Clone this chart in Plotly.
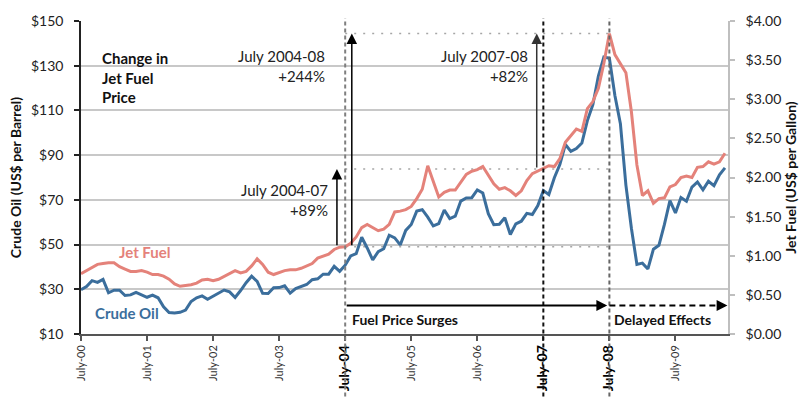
import plotly.graph_objects as go

# Monthly index: 0 = July 2000 ... 117 = April 2010
months = list(range(118))

# Crude oil (US$ per barrel), monthly
crude = [
    29.77, 31.22, 33.88, 33.11, 34.42, 28.44,
    29.59, 29.61, 27.24, 27.49, 28.63, 27.60, 26.43, 27.37, 26.20, 22.17, 19.64, 19.39,
    19.72, 20.72, 24.53, 26.18, 27.04, 25.52, 26.97, 28.39, 29.66, 28.84, 26.35, 29.46,
    32.95, 35.83, 33.51, 28.17, 28.11, 30.66, 30.76, 31.57, 28.31, 30.34, 31.11, 32.13,
    34.31, 34.69, 36.74, 36.75, 40.28, 38.03, 40.78, 44.90, 45.94, 53.28, 48.47, 43.15,
    46.84, 48.15, 54.19, 52.98, 49.83, 56.35, 59.00, 64.99, 65.59, 62.26, 58.32, 59.41,
    65.49, 61.63, 62.69, 69.44, 70.84, 70.95, 74.41, 73.04, 63.80, 58.89, 59.08, 61.96,
    54.51, 59.28, 60.44, 63.98, 63.46, 67.49, 74.12, 72.36, 79.92, 85.80, 94.77, 91.69,
    92.97, 95.39, 105.45, 112.58, 125.40, 133.88, 133.37, 116.67, 104.11, 76.61, 57.31, 41.12,
    41.71, 39.09, 47.94, 49.65, 59.03, 69.64, 64.15, 71.05, 69.41, 75.72, 77.99, 74.47,
    78.33, 76.39, 81.20, 84.29,
]

# Jet fuel (US$ per gallon), monthly
jet = [
    0.77, 0.81, 0.86, 0.89, 0.90, 0.91,
    0.91, 0.86, 0.83, 0.80, 0.80, 0.81, 0.79, 0.76, 0.76, 0.74, 0.70, 0.64,
    0.61, 0.62, 0.63, 0.65, 0.69, 0.70, 0.68, 0.70, 0.74, 0.78, 0.81, 0.78,
    0.80, 0.87, 0.96, 0.89, 0.79, 0.76, 0.79, 0.81, 0.82, 0.82, 0.84, 0.87,
    0.90, 0.97, 1.00, 1.02, 1.08, 1.11, 1.116, 1.16, 1.24, 1.36, 1.40, 1.36,
    1.32, 1.34, 1.40, 1.56, 1.57, 1.59, 1.63, 1.73, 1.85, 2.15, 1.95, 1.75,
    1.81, 1.84, 1.84, 1.94, 2.04, 2.08, 2.10, 2.14, 2.03, 1.92, 1.85, 1.87,
    1.83, 1.77, 1.83, 1.96, 2.05, 2.08, 2.11, 2.15, 2.14, 2.24, 2.45, 2.53,
    2.62, 2.59, 2.88, 2.97, 3.14, 3.46, 3.84, 3.57, 3.45, 3.34, 2.84, 2.16,
    1.77, 1.83, 1.67, 1.73, 1.74, 1.88, 1.91, 2.00, 2.02, 2.00, 2.13, 2.14,
    2.20, 2.17, 2.20, 2.31,
]

tick_idx = [0, 12, 24, 36, 48, 60, 72, 84, 96, 108]
tick_labels = ["July-00", "July-01", "July-02", "July-03", "July-04",
               "July-05", "July-06", "July-07", "July-08", "July-09"]
emphasis = {"July-04", "July-07", "July-08"}

crude_ticks = list(range(10, 151, 20))
crude_ticktext = ["$%d" % v for v in crude_ticks]
jet_ticks = [i * 0.5 for i in range(9)]
jet_ticktext = ["$%.2f" % v for v in jet_ticks]

JUL04, JUL07, JUL08 = 48, 84, 96

FONT = "Lato"
BLUE = "#3b6e9c"
RED = "#e4827a"

ticktext = [
    ('<span style="font-size:14px;color:#000"><b>%s</b></span>' % t) if t in emphasis else t
    for t in tick_labels
]

fig = go.Figure()
fig.add_trace(go.Scatter(x=months, y=crude, mode="lines", name="Crude Oil",
                         line=dict(color=BLUE, width=3), yaxis="y"))
fig.add_trace(go.Scatter(x=months, y=jet, mode="lines", name="Jet Fuel",
                         line=dict(color=RED, width=3), yaxis="y2"))

shapes = []
for idx, col in [(JUL04, "#7f7f7f"), (JUL07, "#111111"), (JUL08, "#666666")]:
    shapes.append(dict(type="line", xref="x", yref="paper", x0=idx, x1=idx,
                       y0=-0.2, y1=1.009, layer="above",
                       line=dict(color=col, width=2, dash="4px,3px")))
for idx in [JUL04, JUL07, JUL08]:
    shapes.append(dict(type="line", xref="x", yref="y2", x0=JUL04, x1=JUL08,
                       y0=jet[idx], y1=jet[idx], layer="below",
                       line=dict(color="#a6a6a6", width=1.5, dash="2px,7px")))
BOTTOM_Y = 22.74
shapes.append(dict(type="line", xref="x", yref="y", x0=JUL08, x1=116.5,
                   y0=BOTTOM_Y, y1=BOTTOM_Y,
                   line=dict(color="#000", width=1.8, dash="6px,4px")))

ann = []
def arrow(x, y_head, y_tail, color="#000"):
    ann.append(dict(x=x, y=y_head, ax=x, ay=y_tail, xref="x", yref="y2",
                    axref="x", ayref="y2", text="", showarrow=True,
                    arrowhead=2, arrowsize=1.4, arrowwidth=1.5, arrowcolor=color))

arrow(46.5, jet[JUL07], jet[JUL04])
arrow(49.2, jet[JUL08], jet[JUL04])
arrow(82.8, jet[JUL08], jet[JUL07], "#333")

ann.append(dict(x=95.6, y=BOTTOM_Y, ax=JUL04, ay=BOTTOM_Y, xref="x", yref="y",
                axref="x", ayref="y", text="", showarrow=True, arrowhead=2,
                arrowsize=1.2, arrowwidth=1.8, arrowcolor="#000"))
ann.append(dict(x=117.45, y=BOTTOM_Y, ax=-10, ay=0, xref="x", yref="y",
                text="", showarrow=True, arrowhead=2, arrowsize=1.2,
                arrowwidth=1.8, arrowcolor="#000"))

def label(text, x, y, xanchor="left", bold=False, color="#222", size=15, align="left"):
    ann.append(dict(text=("<b>%s</b>" % text) if bold else text, x=x, y=y,
                    xref="paper", yref="paper", xanchor=xanchor, yanchor="middle",
                    align=align, showarrow=False,
                    font=dict(family=FONT, size=size, color=color)))

label("Change in<br>Jet Fuel<br>Price", 0.0286, 0.819, bold=True, color="#111")
label("July 2004-08<br>+244%", 0.3798, 0.856, xanchor="right", align="right")
label("July 2007-08<br>+82%", 0.6937, 0.856, xanchor="right", align="right")
label("July 2004-07<br>+89%", 0.3844, 0.429, xanchor="right", align="right")
label("Jet Fuel", 0.0549, 0.2623, bold=True, color=RED)
label("Crude Oil", 0.0178, 0.0679, bold=True, color=BLUE)
label("Fuel Price Surges", 0.4153, 0.0463, bold=True, color="#111", size=14)
label("Delayed Effects", 0.8206, 0.0463, bold=True, color="#111", size=14)

fig.update_layout(
    width=809, height=403,
    margin=dict(l=81, r=81, t=15, b=64),
    paper_bgcolor="white", plot_bgcolor="white",
    showlegend=False,
    font=dict(family=FONT, color="#222"),
    xaxis=dict(range=[0, 117.55], tickmode="array", tickvals=tick_idx, ticktext=ticktext,
               tickangle=-90, ticks="outside", ticklen=5, tickcolor="#555", tickwidth=1.5,
               showline=True, linecolor="#555", linewidth=1.5, showgrid=False,
               zeroline=False, tickfont=dict(family=FONT, size=11, color="#333")),
    yaxis=dict(range=[10, 150], tickmode="array", tickvals=crude_ticks,
               ticktext=crude_ticktext, showgrid=True, gridcolor="#c8c8c8", gridwidth=1.5,
               showline=True, linecolor="#222", linewidth=1.5, ticks="outside",
               ticklen=5, tickcolor="#222", tickwidth=1.5, zeroline=False,
               ticklabelstandoff=8,
               tickfont=dict(family=FONT, size=14, color="#222"),
               title=dict(text="<b>Crude Oil (US$ per Barrel)</b>", standoff=6,
                          font=dict(family=FONT, size=14, color="#111"))),
    yaxis2=dict(range=[0, 4], overlaying="y", side="right", tickmode="array",
                tickvals=jet_ticks, ticktext=jet_ticktext,
                showgrid=False, showline=True, linecolor="#bfbfbf", linewidth=1.5,
                ticks="outside", ticklen=5, tickcolor="#bfbfbf", tickwidth=1.5,
                zeroline=False, ticklabelstandoff=8,
                tickfont=dict(family=FONT, size=14, color="#222"),
                title=dict(text="<b>Jet Fuel (US$ per Gallon)</b>", standoff=6,
                           font=dict(family=FONT, size=14, color="#111"))),
    shapes=shapes,
    annotations=ann,
)

fig.write_html("out.html", config={"displayModeBar": False},
               post_script="document.body.style.margin='0';document.body.style.padding='0';")
